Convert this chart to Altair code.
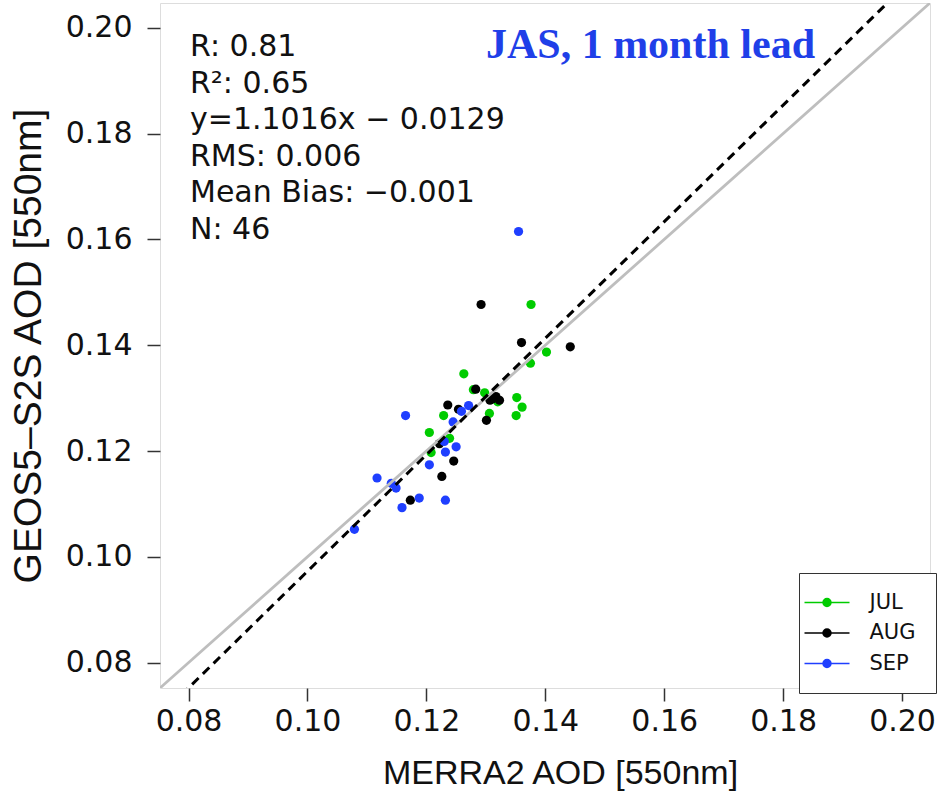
import altair as alt
import pandas as pd

# ---------------- data ----------------
months = ["JUL", "AUG", "SEP"]
month_colors = ["#00CC00", "#000000", "#1F3FFF"]

jul_x = [0.1376, 0.1402, 0.1375, 0.1263, 0.1279, 0.1298, 0.1320, 0.1352, 0.1361, 0.1351, 0.1306, 0.1229, 0.1205, 0.1239, 0.1208]
jul_y = [0.1477, 0.1387, 0.1366, 0.1346, 0.1316, 0.1310, 0.1293, 0.1301, 0.1283, 0.1267, 0.1271, 0.1267, 0.1235, 0.1224, 0.1197]
aug_x = [0.1292, 0.1360, 0.1442, 0.1283, 0.1317, 0.1307, 0.1323, 0.1236, 0.1254, 0.1301, 0.1222, 0.1246, 0.1226, 0.1173, 0.1312]
aug_y = [0.1477, 0.1405, 0.1397, 0.1317, 0.1303, 0.1296, 0.1296, 0.1287, 0.1279, 0.1258, 0.1214, 0.1181, 0.1152, 0.1107, 0.1299]
sep_x = [0.1355, 0.1165, 0.1271, 0.1259, 0.1245, 0.1230, 0.1250, 0.1232, 0.1205, 0.1117, 0.1141, 0.1149, 0.1188, 0.1159, 0.1232, 0.1079]
sep_y = [0.1615, 0.1267, 0.1286, 0.1275, 0.1255, 0.1218, 0.1208, 0.1198, 0.1174, 0.1149, 0.1139, 0.1130, 0.1111, 0.1093, 0.1107, 0.1052]

axis_ticks = [0.08, 0.10, 0.12, 0.14, 0.16, 0.18, 0.20]
axis_min, axis_max = 0.0752, 0.2047

fit_slope = 1.1016
fit_intercept = -0.0129

stats_lines = ["R: 0.81", "R\u00b2: 0.65", "y=1.1016x \u2212 0.0129", "RMS: 0.006",
               "Mean Bias: \u22120.001", "N: 46"]
panel_title = "JAS, 1 month lead"

# ---------------- tables ----------------
color_of = dict(zip(months, month_colors))
points = pd.concat([
    pd.DataFrame({"x": jul_x, "y": jul_y, "month": "JUL"}),
    pd.DataFrame({"x": aug_x, "y": aug_y, "month": "AUG"}),
    pd.DataFrame({"x": sep_x, "y": sep_y, "month": "SEP"}),
], ignore_index=True)
points["hex"] = points["month"].map(color_of)
points["draw_order"] = points["month"].map({m: i for i, m in enumerate(months)})

line_df = pd.DataFrame({"x": [axis_min, axis_max]})
one = pd.DataFrame({"a": [0]})

FONT = "DejaVu Sans"
TFONT = "Liberation Sans"
xs = alt.Scale(domain=[axis_min, axis_max], nice=False, zero=False)
ys = alt.Scale(domain=[axis_min, axis_max], nice=False, zero=False)
cscale = alt.Scale(domain=months, range=month_colors)

x_axis = alt.Axis(values=axis_ticks, format=".2f", grid=False, domain=False,
                  tickSize=13, tickWidth=1.5, tickColor="#333333",
                  labelFont=FONT, labelFontSize=30, labelColor="#111111", labelPadding=5,
                  title="MERRA2 AOD [550nm]", titleFont=TFONT, titleFontSize=34,
                  titleFontWeight="normal", titleColor="#111111",
                  titleX=400, titleY=95, titleBaseline="alphabetic")
y_axis = alt.Axis(values=axis_ticks, format=".2f", grid=False, domain=False,
                  tickSize=13, tickWidth=1.5, tickColor="#333333",
                  labelFont=FONT, labelFontSize=30, labelColor="#111111", labelPadding=15,
                  title="GEOS5\u2013S2S AOD [550nm]", titleFont=TFONT, titleFontSize=39,
                  titleFontWeight="normal", titleColor="#111111",
                  titleX=-120, titleBaseline="alphabetic")

base_x = alt.X("x:Q", scale=xs, axis=x_axis)
base_y = alt.Y("y:Q", scale=ys, axis=y_axis)

one_to_one = alt.Chart(line_df).mark_line(color="#BEBEBE", strokeWidth=2.8, clip=True).transform_calculate(
    y="datum.x").encode(x=base_x, y=base_y)

fit_line = alt.Chart(line_df).mark_line(color="#000000", strokeWidth=3, strokeDash=[9, 6], clip=True).transform_calculate(
    y=f"{fit_slope} * datum.x + ({fit_intercept})").encode(x=base_x, y=base_y)

dots = alt.Chart(points).mark_circle(size=85, opacity=1).encode(
    x=base_x, y=base_y,
    fill=alt.Fill("hex:N", scale=None),
    order=alt.Order("draw_order:Q"),
)

SYMBOL = ("M-4.5,0L4.5,0"
          "M0.8,0A0.8,0.8,0,1,1,-0.8,0A0.8,0.8,0,1,1,0.8,0"
          "M0.55,0A0.55,0.55,0,1,1,-0.55,0A0.55,0.55,0,1,1,0.55,0"
          "M0.3,0A0.3,0.3,0,1,1,-0.3,0A0.3,0.3,0,1,1,0.3,0"
          "M0.08,0A0.08,0.08,0,1,1,-0.08,0A0.08,0.08,0,1,1,0.08,0")

legend_layer = alt.Chart(points).mark_point(filled=False, size=1, strokeWidth=0.01, opacity=0.01).encode(
    x=base_x, y=base_y,
    color=alt.Color("month:N", scale=cscale, legend=alt.Legend(
        title="\u00a0", titleOrient="right", titleFontSize=1, titlePadding=1,
        orient="none", legendX=639, legendY=570,
        symbolType=SYMBOL, symbolSize=100, symbolStrokeWidth=1.5,
        symbolFillColor="transparent", symbolOffset=-1.5, symbolOpacity=1,
        labelOffset=32, labelFont=FONT, labelFontSize=21, labelColor="#111111",
        padding=19, rowPadding=8.5, strokeColor="#333333", fillColor="white",
        cornerRadius=0)),
)

stats = alt.Chart(one).mark_text(text=stats_lines, align="left", baseline="alphabetic",
                                 font=FONT, fontSize=30, lineHeight=36.5, color="#111111").encode(
    x=alt.value(30), y=alt.value(53))

title_txt = alt.Chart(one).mark_text(text=panel_title, align="right", baseline="alphabetic",
                                     font="Liberation Serif", fontWeight="bold", fontSize=42,
                                     color="#1F3FE8").encode(
    x=alt.value(655), y=alt.value(55))

chart = alt.layer(dots, one_to_one, fit_line, legend_layer, stats, title_txt).properties(
    width=770, height=685,
    padding={"left": 160, "top": 3, "right": 9, "bottom": 106},
    autosize=alt.AutoSizeParams(type="none"),
).configure_view(stroke="#333333", strokeWidth=2).configure(background="white")

chart.save("out.html", embed_options={"renderer": "svg", "actions": False})
